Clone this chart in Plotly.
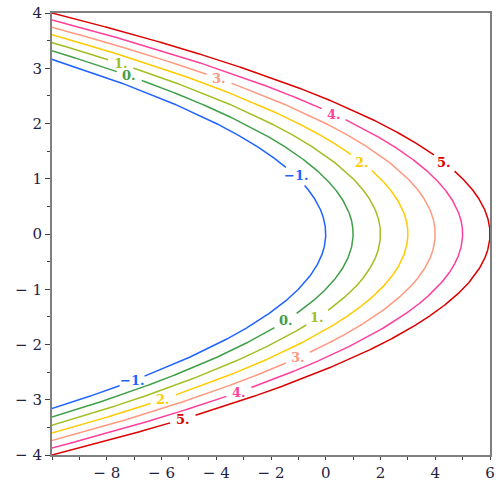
import numpy as np
import plotly.graph_objects as go

# Contour levels of f(x, y) = x + y^2 - 1
levels = [-1, 0, 1, 2, 3, 4, 5]
level_labels = ["\u22121.", "0.", "1.", "2.", "3.", "4.", "5."]
colors = ["#1f64ff", "#3f9f48", "#a0bf22", "#ffcb00", "#ff9980", "#ff3f9b", "#dd0000"]
# y-positions (data units) of the two labels on each contour
label_y_upper = [1.05, 2.86, 3.08, 1.30, 2.81, 2.17, 1.29]
label_y_lower = [-2.66, -1.57, -1.52, -2.99, -2.24, -2.86, -3.35]

x_ticks = [-8, -6, -4, -2, 0, 2, 4, 6]
x_tick_text = ["\u2212 8", "\u2212 6", "\u2212 4", "\u2212 2", "0", "2", "4", "6"]
y_ticks = [-4, -3, -2, -1, 0, 1, 2, 3, 4]
y_tick_text = ["\u2212 4", "\u2212 3", "\u2212 2", "\u2212 1", "0", "1", "2", "3", "4"]

X_RANGE = [-10, 6]
Y_RANGE = [-4, 4]
W, H = 500, 500
ML, MR, MT, MB = 52, 10, 13, 45
px_x = (W - ML - MR) / (X_RANGE[1] - X_RANGE[0])
px_y = (H - MT - MB) / (Y_RANGE[1] - Y_RANGE[0])


def contour_x(level, y):
    # solve x + y^2 - 1 = level for x
    return level + 1 - np.asarray(y) ** 2


fig = go.Figure()
ys = np.linspace(Y_RANGE[0], Y_RANGE[1], 3000)
gap_r = 13
for lvl, lab, col, yu, yl in zip(levels, level_labels, colors, label_y_upper, label_y_lower):
    xs = contour_x(lvl, ys)
    keep = (xs >= X_RANGE[0] - 0.5)
    xx = xs.astype(object)
    yy = ys.astype(object)
    for ly in (yu, yl):
        lx = contour_x(lvl, ly)
        d = np.hypot((xs - lx) * px_x, (ys - ly) * px_y)
        mask = d < gap_r
        xx[mask] = None
        yy[mask] = None
    xx[~keep] = None
    yy[~keep] = None
    fig.add_trace(go.Scatter(x=list(xx), y=list(yy), mode="lines",
                             line=dict(color=col, width=1.5),
                             hoverinfo="skip", showlegend=False, connectgaps=False))
    for ly in (yu, yl):
        fig.add_annotation(x=float(contour_x(lvl, ly)), y=ly, text=lab, showarrow=False,
                           font=dict(family="DejaVu Serif", size=13, color=col, weight="bold"),
                           xanchor="center", yanchor="middle")

axis_common = dict(showgrid=False, zeroline=False, showline=True, linecolor="#808080",
                   linewidth=2, mirror=True, ticks="outside", tickcolor="#404040",
                   tickwidth=1, automargin=False,
                   tickfont=dict(family="DejaVu Serif", size=15, color="#222244"))

fig.update_xaxes(range=X_RANGE, tickvals=x_ticks, ticktext=x_tick_text, ticklen=3,
                 minor=dict(dtick=1, ticklen=3, tickcolor="#404040", ticks="outside"),
                 **axis_common)
fig.update_yaxes(range=Y_RANGE, tickvals=y_ticks, ticktext=y_tick_text, ticklen=5,
                 minor=dict(dtick=0.5, ticklen=3, tickcolor="#404040", ticks="outside"),
                 **axis_common)

fig.update_layout(width=W, height=H, margin=dict(l=ML, r=MR, t=MT, b=MB),
                  plot_bgcolor="white", paper_bgcolor="white")

fig.write_html("out.html", config={"displayModeBar": False},
               post_script="document.body.style.margin='0';document.body.style.overflow='hidden';")
